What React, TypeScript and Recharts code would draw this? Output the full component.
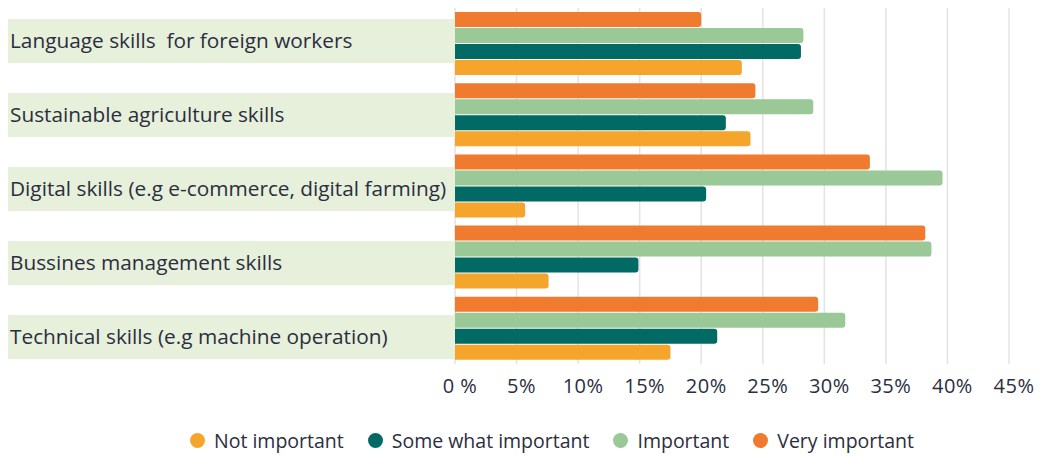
import { BarChart, Bar, XAxis, YAxis, CartesianGrid, Legend } from 'recharts';

const categories = [
  'Language skills  for foreign workers',
  'Sustainable agriculture skills',
  'Digital skills (e.g e-commerce, digital farming)',
  'Bussines management skills',
  'Technical skills (e.g machine operation)',
];
const notImportant = [23.3, 24.0, 5.7, 7.6, 17.5];
const somewhatImportant = [28.1, 22.0, 20.4, 14.9, 21.3];
const important = [28.3, 29.1, 39.6, 38.7, 31.7];
const veryImportant = [20.0, 24.4, 33.7, 38.2, 29.5];
const xTicks = [0, 5, 10, 15, 20, 25, 30, 35, 40, 45];
const xTickLabels = ['0 %', '5%', '10%', '15%', '20%', '25%', '30%', '35%', '40%', '45%'];

const legendItems = [
  { name: 'Not important', color: '#f5a52c' },
  { name: 'Some what important', color: '#016a64' },
  { name: 'Important', color: '#9ac896' },
  { name: 'Very important', color: '#f07b2f' },
];

const data = categories.map((name, i) => ({
  name,
  very: veryImportant[i],
  important: important[i],
  some: somewhatImportant[i],
  not: notImportant[i],
}));

const FONT = '"Open Sans", sans-serif';
const TEXT = '#2b2e40';
const YAXIS_W = 455;

function CategoryTick({ y, payload, index }: any) {
  // label boxes drift a little down relative to the bar groups
  const cy = y - 2.5 + index * 2.8;
  return (
    <g>
      <rect x={8} y={cy - 22} width={YAXIS_W - 8} height={44} fill="#e6f0da" />
      <text
        x={10}
        y={cy}
        dy="0.35em"
        fontSize={20.8}
        fontFamily={FONT}
        fill={TEXT}
        style={{ whiteSpace: 'pre' }}
      >
        {payload.value}
      </text>
    </g>
  );
}

function PercentTick({ x, y, payload }: any) {
  const i = xTicks.indexOf(payload.value);
  return (
    <text
      x={x + 5}
      y={y + 21}
      textAnchor="middle"
      fontSize={20}
      letterSpacing={0.5}
      fontFamily={FONT}
      fill={TEXT}
    >
      {xTickLabels[i]}
    </text>
  );
}

function LegendContent() {
  return (
    <div
      style={{
        display: 'flex',
        justifyContent: 'flex-start',
        alignItems: 'center',
        gap: 24,
        paddingLeft: 190,
        fontFamily: FONT,
        fontSize: 19.5,
        color: TEXT,
      }}
    >
      {legendItems.map((it) => (
        <div key={it.name} style={{ display: 'flex', alignItems: 'center', gap: 9 }}>
          <span
            style={{ width: 15, height: 15, borderRadius: 8, background: it.color, display: 'inline-block' }}
          />
          <span>{it.name}</span>
        </div>
      ))}
    </div>
  );
}

export default function App() {
  return (
    <div style={{ position: 'absolute', left: 0, top: 0, background: '#fff' }}>
      <BarChart
        width={1048}
        height={457}
        data={data}
        layout="vertical"
        margin={{ top: 8, right: 39, left: 0, bottom: 0 }}
        barSize={15}
        barGap={1}
      >
        <CartesianGrid horizontal={false} stroke="#e3e3e3" strokeWidth={1.5} />
        <XAxis
          type="number"
          domain={[0, 45]}
          ticks={xTicks}
          height={63}
          axisLine={false}
          tickLine={false}
          tick={<PercentTick />}
          interval={0}
        />
        <YAxis
          type="category"
          dataKey="name"
          width={YAXIS_W}
          axisLine={false}
          tickLine={false}
          tick={<CategoryTick />}
          interval={0}
        />
        <Legend verticalAlign="bottom" height={30} content={<LegendContent />} />
        <Bar dataKey="very" fill="#f07b2f" radius={[0, 3, 3, 0]} isAnimationActive={false} />
        <Bar dataKey="important" fill="#9ac896" radius={[0, 3, 3, 0]} isAnimationActive={false} />
        <Bar dataKey="some" fill="#016a64" radius={[0, 3, 3, 0]} isAnimationActive={false} />
        <Bar dataKey="not" fill="#f5a52c" radius={[0, 3, 3, 0]} isAnimationActive={false} />
      </BarChart>
    </div>
  );
}
